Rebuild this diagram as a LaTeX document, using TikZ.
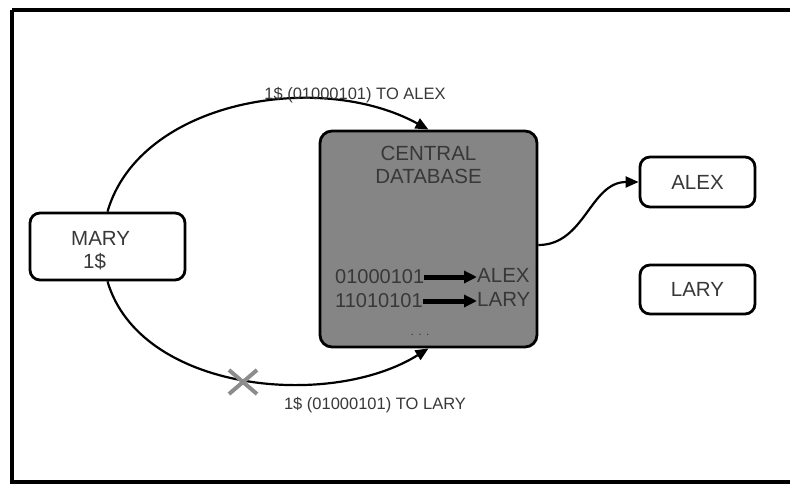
\documentclass[tikz,border=0pt]{standalone}
\usepackage{fontspec}
\setmainfont{Liberation Sans}
\usetikzlibrary{arrows.meta,calc}
\definecolor{txt}{HTML}{383838}
\definecolor{dbfill}{HTML}{858585}
\definecolor{xgray}{HTML}{8C8C8C}
\tikzset{
  rbox/.style={draw=black, line width=2.8pt, rounded corners=10pt, fill=white},
  conn/.style={line width=2.2pt, -{Triangle[length=13pt,width=11pt]}},
  lbl/.style={text=txt, font=\fontsize{16.5}{18}\selectfont, inner sep=0pt},
  big/.style={text=txt, font=\fontsize{20.5}{23}\selectfont, inner sep=0pt},
  row/.style={text=txt, font=\fontsize{20}{22}\selectfont, inner sep=0pt},
  inarrow/.style={line width=5pt, -{Triangle[length=13pt,width=12pt]}}
}
\begin{document}
\begin{tikzpicture}[x=1pt,y=-1pt]
\useasboundingbox (0,0) rectangle (790,485);
% frame
\draw[line width=4.5pt] (12,10) -- (805,10) (12,10) -- (12,482) -- (805,482);
% boxes
\node[rbox, minimum width=155pt, minimum height=67pt] (mary) at (107.5,246.5) {};
\node[big, anchor=west] (maryt) at (71,238) {MARY};
\node[big, anchor=west] (mary1) at (83,262) {1\$};
\node[draw=black, line width=2.8pt, rounded corners=12pt, fill=dbfill,
      minimum width=217pt, minimum height=216pt] (db) at (428.5,239) {};
\node[big] (central) at (428.5,153) {CENTRAL};
\node[big] (database) at (428.5,176) {DATABASE};
\node[row, anchor=west] (b1) at (335,277) {01000101};
\node[row, anchor=west] (b2) at (335,301) {11010101};
\node[big, anchor=west] (a1) at (477,275) {ALEX};
\node[big, anchor=west] (l1) at (477,299) {LARY};
\draw[inarrow] (b1.east) -- (b1.east -| a1.west);
\draw[inarrow] (b2.east) -- (b2.east -| l1.west);
\node[text=txt, font=\fontsize{12}{12}\selectfont, inner sep=0pt] (dots) at (420,335) {. . .};
\node[rbox, minimum width=115pt, minimum height=50pt] (alex) at (697.5,182) {};
\node[big] (alext) at (697.5,182) {ALEX};
\node[rbox, minimum width=115pt, minimum height=49pt] (lary) at (697.5,289.5) {};
\node[big] (laryt) at (697.5,289.5) {LARY};
% connectors
\draw[conn] (mary.north) .. controls (140,100) and (320,70) .. (db.north);
\draw[conn] (mary.south) .. controls (140,392) and (330,410) .. (db.south);
\coordinate (dbe) at ($(db.east)+(0,6)$);
\draw[conn] (dbe) .. controls (585,245) and (590,182) .. (alex.west);
% labels
\node[lbl] (top) at (355,95) {1\$ (01000101) TO ALEX};
\node[lbl] (bot) at (375,405) {1\$ (01000101) TO LARY};
% cross
\coordinate (xc) at (243,382);
\draw[xgray, line width=4pt] ($(xc)+(-14,-12)$) -- ($(xc)+(14,12)$)
  ($(xc)+(-14,12)$) -- ($(xc)+(14,-12)$);
\end{tikzpicture}
\end{document}
